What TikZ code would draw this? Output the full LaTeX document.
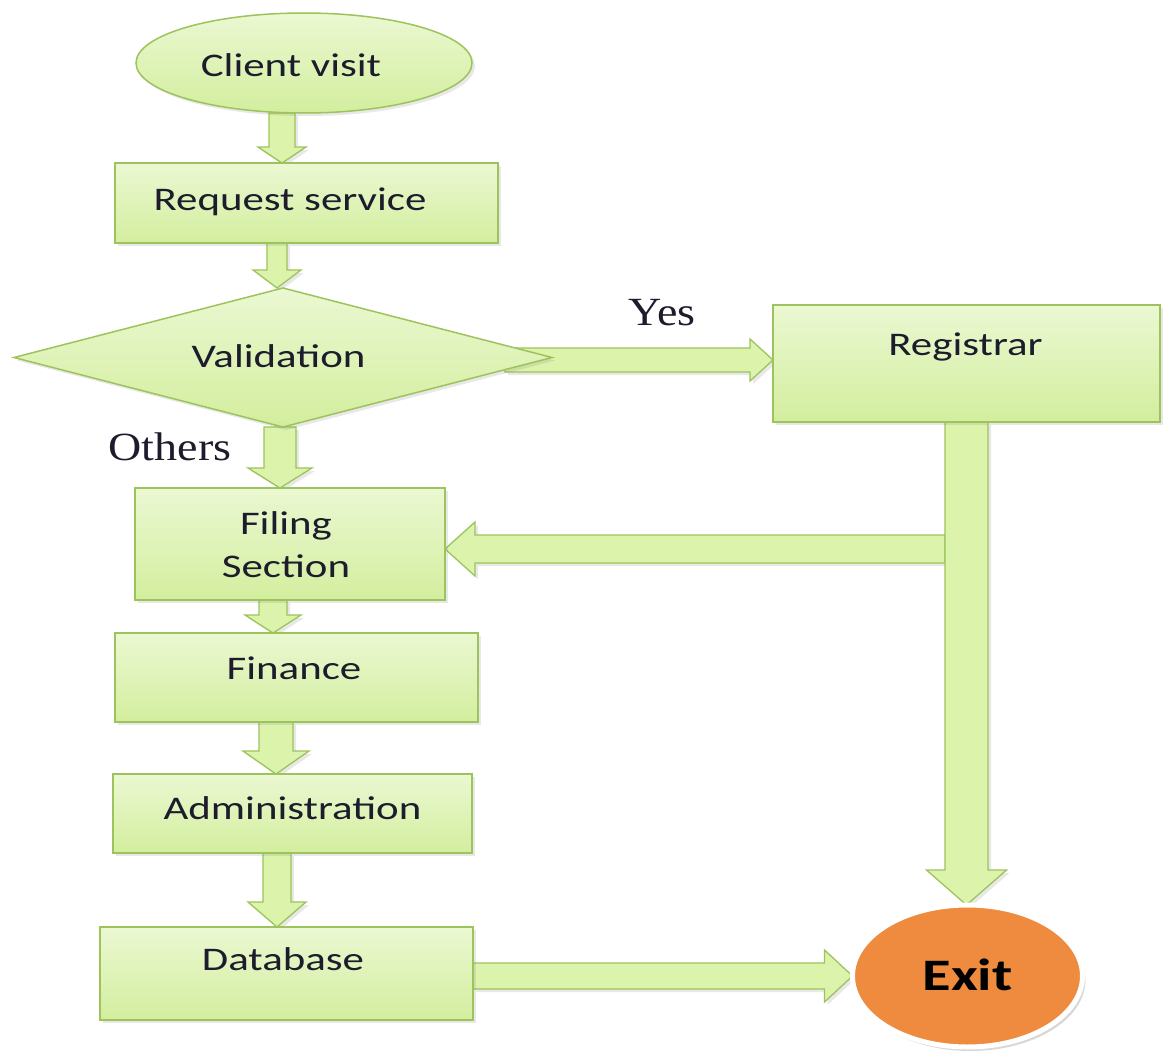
\documentclass[tikz,border=0pt]{standalone}
\usepackage{fontspec}
\usetikzlibrary{shapes.geometric,calc,shadows}
\newfontfamily\boxfont[FakeStretch=1.3]{Carlito}
\newfontfamily\labfont[FakeStretch=1.15]{Liberation Serif}
\definecolor{boxtop}{HTML}{EBF8D2}
\definecolor{boxbot}{HTML}{D3EE9E}
\definecolor{boxline}{HTML}{9DC45C}
\definecolor{arrfill}{HTML}{DCF3AB}
\definecolor{exitfill}{HTML}{EE8B3E}
\definecolor{ink}{HTML}{1C1C2C}
\pgfdeclarelayer{bg}
\pgfsetlayers{bg,main}
\newcommand\tx[3]{\raisebox{#2}[0pt][0pt]{\makebox[0pt]{\hspace*{#1}#3}}}
\newcommand\blockarrow[5]{%
  \path (#1) coordinate (baS) (#2) coordinate (baT);
  \path ($(baT)!#5!(baS)$) coordinate (baH);
  \filldraw[barrow] ($(baS)!#3!90:(baT)$) -- ($(baH)!#3!90:(baT)$) -- ($(baH)!#4!90:(baT)$) -- (baT)
    -- ($(baH)!#4!-90:(baT)$) -- ($(baH)!#3!-90:(baT)$) -- ($(baS)!#3!-90:(baT)$) -- cycle;}
\tikzset{
  shadowed/.style={drop shadow={shadow xshift=3pt, shadow yshift=-3pt, opacity=0.18}},
  box/.style={rectangle, draw=boxline, line width=1.5pt, top color=boxtop, bottom color=boxbot,
    inner sep=0pt, outer sep=0pt, text=ink, font=\boxfont\fontsize{33}{40}\selectfont, shadowed},
  barrow/.style={draw=boxline, line width=1.3pt, fill=arrfill, line join=miter, shadowed},
  lab/.style={inner sep=0pt, text=ink, font=\labfont\fontsize{40}{46}\selectfont},
  exitn/.style={ellipse, draw=white, line width=5pt, fill=exitfill, inner sep=0pt, outer sep=0pt,
    text=black, font=\boxfont\bfseries\fontsize{45}{50}\selectfont,
    drop shadow={shadow xshift=3pt, shadow yshift=-4pt, opacity=0.3}}
}
\begin{document}
\begin{tikzpicture}[x=1pt,y=-1pt]
\useasboundingbox (0,0) rectangle (1163,1057);
% nodes
\node[box, ellipse, minimum width=336pt, minimum height=100pt] (cv) at (304,63) {\tx{-26pt}{-14pt}{Client visit}};
\node[box, minimum width=383pt, minimum height=80pt] (rs) at (306.5,203) {\tx{-33pt}{-7pt}{Request service}};
\node[box, diamond, minimum width=538pt, minimum height=139pt] (val) at (283,357.5) {\tx{-9pt}{-9.5pt}{Validation}};
\node[box, minimum width=387pt, minimum height=117pt] (reg) at (966.5,363.5) {\tx{-2pt}{8pt}{Registrar}};
\node[box, minimum width=310pt, minimum height=112pt] (fil) at (290,544) {\tx{-8pt}{10pt}{Filing}\tx{-8pt}{-33pt}{Section}};
\node[box, minimum width=363pt, minimum height=89pt] (fin) at (296.5,677.5) {\tx{-5pt}{-2pt}{Finance}};
\node[box, minimum width=359pt, minimum height=79pt] (adm) at (292.5,813.5) {\tx{0pt}{-6pt}{Administration}};
\node[box, minimum width=373pt, minimum height=93pt] (db) at (286.5,973.5) {\tx{-7pt}{3pt}{Database}};
\node[exitn, minimum width=230pt, minimum height=142pt] (ex) at (967.5,976) {\tx{0pt}{-14pt}{Exit}};
\node[lab] (yes) at (662,313) {Yes};
\node[lab] (oth) at (170,447) {Others};
% connectors behind the nodes
\begin{pgfonlayer}{bg}
\fill[white] (0,0) rectangle (1163,1057);
\blockarrow{[xshift=-22pt]cv.south}{[xshift=-24.5pt]rs.north}{13pt}{24pt}{16pt}
\blockarrow{[xshift=-29.5pt]rs.south}{[xshift=-6pt]val.north}{10pt}{24pt}{18pt}
\blockarrow{[xshift=-47pt,yshift=-2.5pt]val.east}{[yshift=3.5pt]reg.west}{12pt}{21pt}{23pt}
\blockarrow{[xshift=-3pt]val.south}{[xshift=-10pt]fil.north}{16pt}{32pt}{20pt}
\coordinate (jn) at ($(reg.south)+(-21.5,127)$);
\blockarrow{jn}{fil.east |- jn}{14pt}{27pt}{30pt}
\blockarrow{reg.south}{reg.south |- ex.north}{21.5pt}{40pt}{35pt}
\blockarrow{[xshift=-17pt]fil.south}{[xshift=-23.5pt]fin.north}{14pt}{28pt}{18pt}
\blockarrow{[xshift=-20.5pt]fin.south}{[xshift=-16.5pt]adm.north}{17pt}{33pt}{23pt}
\blockarrow{[xshift=-15.5pt]adm.south}{[xshift=-9.5pt]db.north}{14pt}{29pt}{25pt}
\blockarrow{db.east |- ex.west}{ex.west}{13pt}{26pt}{28pt}
\end{pgfonlayer}
\end{tikzpicture}
\end{document}
